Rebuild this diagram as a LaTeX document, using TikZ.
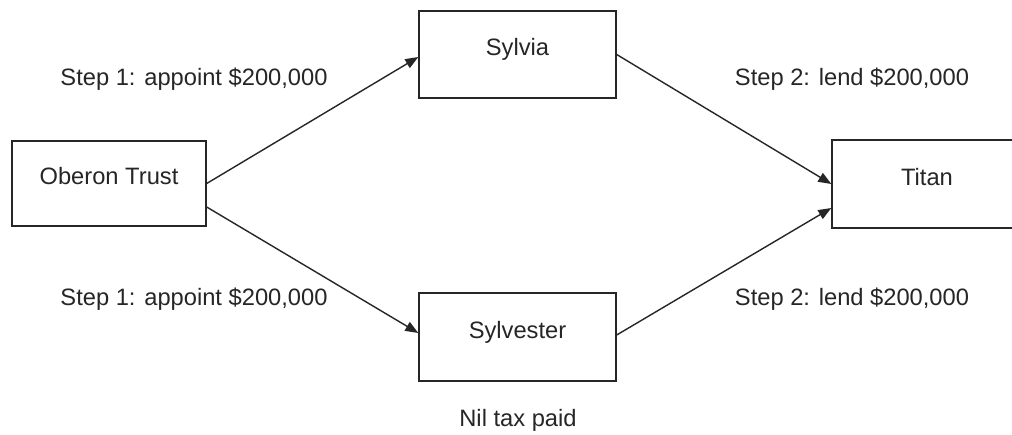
\documentclass[tikz,border=0pt]{standalone}
\usepackage{fontspec}
\setmainfont{Liberation Sans}
\usetikzlibrary{arrows.meta}
\begin{document}
\begin{tikzpicture}[x=1pt,y=1pt,
  box/.style={draw=black!85, line width=1.4pt, rectangle, inner sep=0pt,
    text height=17pt, text depth=14pt, text=black!85,
    font=\fontsize{23.7}{28}\selectfont},
  lbl/.style={anchor=base, inner sep=0pt, text=black!85,
    font=\fontsize{23.7}{28}\selectfont},
  conn/.style={draw=black!85, line width=1.4pt, -{Triangle[length=13pt,width=10pt]}}
]
\useasboundingbox (0,0) rectangle (1012,-435);
\fill[white] (0,0) rectangle (1012,-435);

\node[box, minimum width=194pt, minimum height=85pt] (oberon) at (109,-183.5) {Oberon Trust};
\node[box, minimum width=197pt, minimum height=87pt] (sylvia) at (517.5,-54.5) {Sylvia};
\node[box, minimum width=197pt, minimum height=88pt] (sylvester) at (517.5,-337) {Sylvester};
\node[box, minimum width=190pt, minimum height=88pt] (titan) at (927,-184) {Titan};

\node[lbl] (s1a) at (194,-86) {Step 1: appoint \$200,000};
\node[lbl] (s1b) at (194,-306) {Step 1: appoint \$200,000};
\node[lbl] (s2a) at (852,-86) {Step 2: lend \$200,000};
\node[lbl] (s2b) at (852,-306) {Step 2: lend \$200,000};
\node[lbl] (nil) at (518,-427) {Nil tax paid};

\draw[conn] (oberon.east) -- ([yshift=-2.5pt]sylvia.west);
\draw[conn] ([yshift=-23.5pt]oberon.east) -- ([yshift=4pt]sylvester.west);
\draw[conn] (sylvia.east) -- (titan.west);
\draw[conn] ([yshift=2pt]sylvester.east) -- ([yshift=-24pt]titan.west);
\end{tikzpicture}
\end{document}
